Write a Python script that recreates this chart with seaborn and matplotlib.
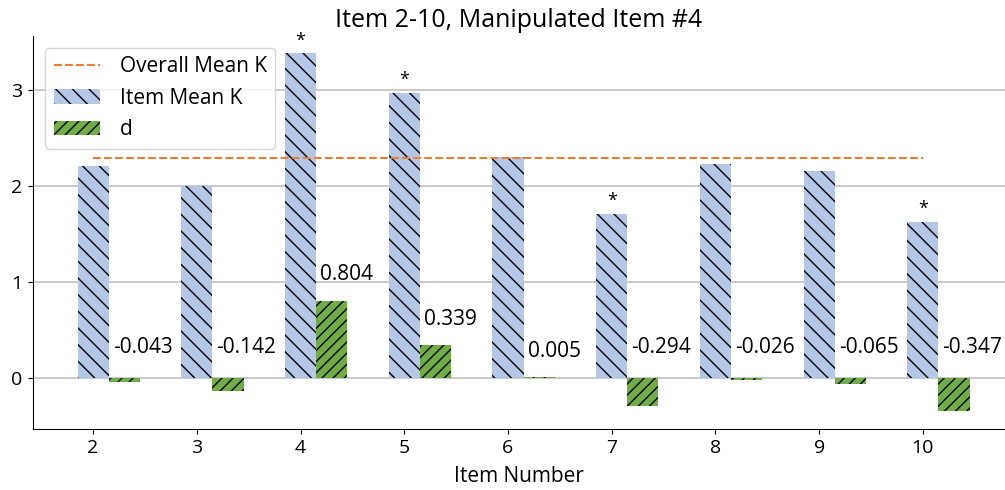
import numpy as np
import pandas as pd
import matplotlib
matplotlib.use("Agg")
import matplotlib.pyplot as plt
from matplotlib.lines import Line2D
from matplotlib.patches import Patch
import seaborn as sns

# Item numbers and per-item statistics
items = np.array([2, 3, 4, 5, 6, 7, 8, 9, 10])
item_mean_k = [2.205, 2.00, 3.38, 2.97, 2.296, 1.71, 2.226, 2.15, 1.625]
d_values = [-0.043, -0.142, 0.804, 0.339, 0.005, -0.294, -0.026, -0.065, -0.347]
significant = [False, False, True, True, False, True, False, False, True]
overall_mean_k = 2.29

blue = "#b4c7e7"
green = "#70ad47"
orange = "#ed7d31"

sns.set_style("ticks")
plt.rcParams["font.family"] = ["Open Sans", "DejaVu Sans"]
plt.rcParams["hatch.linewidth"] = 1.0
for key in ["text.color", "axes.labelcolor", "xtick.color", "ytick.color",
            "axes.edgecolor"]:
    plt.rcParams[key] = "black"

bar_w = 0.3
df_k = pd.DataFrame({"pos": items, "value": item_mean_k})
df_d = pd.DataFrame({"pos": items + bar_w, "value": d_values})

fig = plt.figure(figsize=(10.05, 4.9), dpi=100)
ax = fig.add_axes([0.0328, 0.1245, 0.967, 0.803])

ax.plot([items[0], items[-1]], [overall_mean_k] * 2, color=orange,
        linestyle="--", linewidth=1.5, zorder=3)

sns.barplot(data=df_k, x="pos", y="value", native_scale=True, width=bar_w,
            color=blue, saturation=1, hatch="\\\\", edgecolor="black",
            linewidth=0, ax=ax, zorder=2)
sns.barplot(data=df_d, x="pos", y="value", native_scale=True, width=bar_w,
            color=green, saturation=1, hatch="///", edgecolor="black",
            linewidth=0, ax=ax, zorder=2)

# value labels for d, and markers over significant items
for x, k, d, sig in zip(items, item_mean_k, d_values, significant):
    y = d + 0.27 if d > 0 else 0.315
    ax.text(x + 0.19, y, f"{d:.3f}", ha="left", va="center", fontsize=15)
    if sig:
        ax.text(x, k + 0.04, "*", ha="center", va="bottom", fontsize=13)

ax.set_xlim(1.42, 10.79)
ax.set_xticks(items)
ax.set_xticklabels([str(i) for i in items])
ax.set_yticks([0, 1, 2, 3])
ax.tick_params(labelsize=14, length=3.5, pad=4)
ax.yaxis.grid(True, color="#c0c0c0", linewidth=1.2, zorder=0)
ax.set_axisbelow(True)
sns.despine(ax=ax)
ax.set_xlabel("Item Number", fontsize=15, labelpad=6)
ax.set_ylabel("")
ax.set_title("Item 2-10, Manipulated Item #4", fontsize=18)

handles = [
    Line2D([], [], color=orange, linestyle="--", linewidth=1.5),
    Patch(facecolor=blue, hatch="\\\\", edgecolor="black", linewidth=0),
    Patch(facecolor=green, hatch="///", edgecolor="black", linewidth=0),
]
ax.legend(handles, ["Overall Mean K", "Item Mean K", "d"], loc="upper left",
          fontsize=15, handlelength=2.2, handletextpad=0.96,
          borderaxespad=0.6)

fig.savefig("out.png", dpi=100)
